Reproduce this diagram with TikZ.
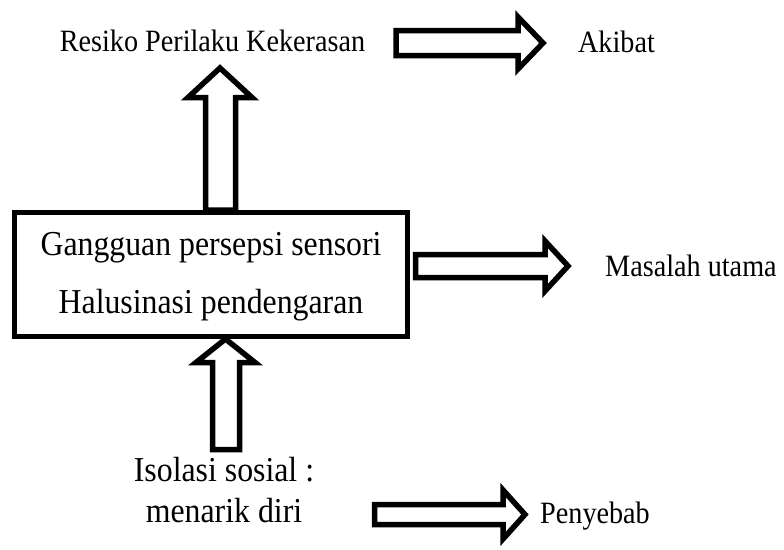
\documentclass[tikz,border=0pt]{standalone}
\usepackage{fontspec}
\usepackage{graphicx}
\setmainfont{Liberation Serif}
\newcommand{\vstretch}[1]{\scalebox{1}[1.1]{#1}}
\begin{document}
\begin{tikzpicture}[x=1pt,y=-1pt,
  lbl/.style={inner sep=0pt,anchor=base,font=\fontsize{28.2}{34}\selectfont},
  big/.style={inner sep=0pt,anchor=base,font=\fontsize{31.8}{38}\selectfont},
  blockarrow/.style={draw=black,line width=5.5pt,fill=white,miter limit=10},
  mainbox/.style={draw=black,line width=5pt,inner sep=0pt}]
\useasboundingbox (0,0) rectangle (784,549);
% main box
\node[mainbox,minimum width=393pt,minimum height=124pt] (box) at (211,274.5) {};
\node[big] (t1) at (211,255) {\vstretch{Gangguan persepsi sensori}};
\node[big] (t2) at (211,313) {\vstretch{Halusinasi pendengaran}};
% labels
\node[lbl] (resiko) at (212.5,51) {\vstretch{Resiko Perilaku Kekerasan}};
\node[lbl] (akibat) at (616.5,52) {\vstretch{Akibat}};
\node[lbl,anchor=base west] (masalah) at (605,276) {\vstretch{Masalah utama}};
\node[lbl,anchor=base west] (penyebab) at (540,523) {\vstretch{Penyebab}};
\node[big] (iso1) at (224,481) {\vstretch{Isolasi sosial :}};
\node[big] (iso2) at (224,522) {\vstretch{menarik diri}};
% right arrow: top
\draw[blockarrow] (396,30.5) -- (518,30.5) -- (518,17) -- (543,43) -- (518,69) -- (518,55.5) -- (396,55.5) -- cycle;
% right arrow: middle
\draw[blockarrow] (415.5,254.5) -- (545,254.5) -- (545,241) -- (568,266) -- (545,291) -- (545,277.5) -- (415.5,277.5) -- cycle;
% right arrow: bottom
\draw[blockarrow] (374.5,504.5) -- (503,504.5) -- (503,490) -- (525,514.5) -- (503,539) -- (503,524.5) -- (374.5,524.5) -- cycle;
% up arrow: top (box to Resiko)
\draw[blockarrow] (box.north -| 205.5,0) -- (205.5,97.5) -- (188,97.5) -- (220,68) -- (252,97.5) -- (235.5,97.5) -- (box.north -| 235.5,0) -- cycle;
% up arrow: bottom (Isolasi to box)
\draw[blockarrow] (212.5,449.5) -- (212.5,362.5) -- (196,362.5) -- (box.south -| 225.5,0) -- (255,362.5) -- (239.5,362.5) -- (239.5,449.5) -- cycle;
\end{tikzpicture}
\end{document}
